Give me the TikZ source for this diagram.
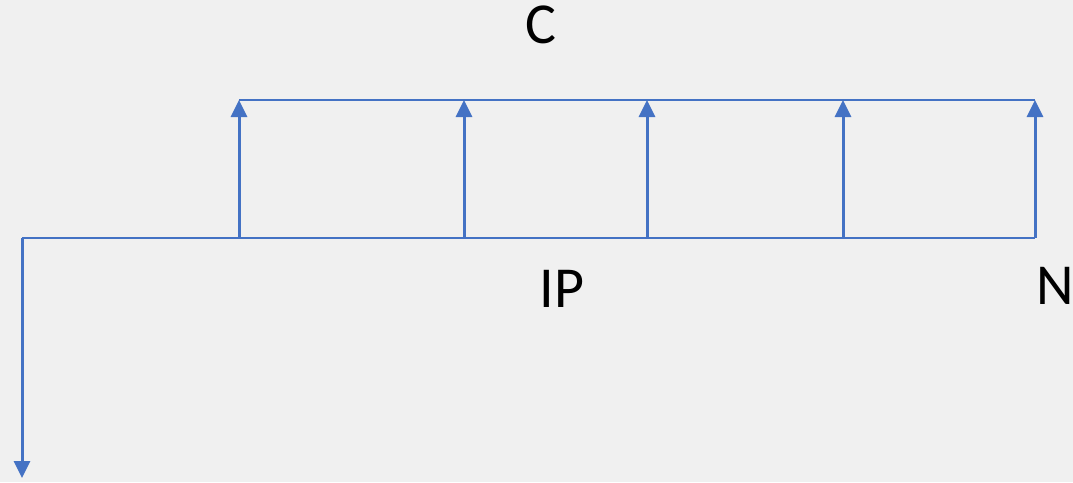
\documentclass[tikz,border=0pt]{standalone}
\usepackage{fontspec}
\setmainfont{Carlito}
\usetikzlibrary{arrows.meta}
\definecolor{flowblue}{HTML}{4472C4}
\definecolor{bggray}{HTML}{F0F0F0}
\tikzset{
  flow/.style={draw=flowblue, line width=3pt, -{Triangle[width=16pt,length=17pt]}},
  timeline/.style={draw=flowblue, line width=2pt},
  lbl/.style={font=\fontsize{58}{70}\selectfont, inner sep=0pt}
}
\begin{document}
\begin{tikzpicture}[x=1pt,y=-1pt]
    % background and frame
    \fill[bggray] (0,0) rectangle (1073,482);
    \useasboundingbox (0,0) rectangle (1073,482);

    % time line
    \coordinate (t0) at (22,238);
    \coordinate (tN) at (1035,238);
    \coordinate (out) at (22,478);
    \draw[timeline] (t0) -- (tN);
    \draw[flow] (t0) -- (out);

    % coupons
    \foreach \x [count=\i] in {239,464,647,843,1035} {
        \coordinate (b\i) at (\x,238);
        \coordinate (c\i) at (\x,100);
        \draw[flow] (b\i) -- (c\i);
    }
    \draw[timeline] (c1) -- (c5);

    % labels
    \node[lbl] (C) at (541,25) {C};
    \node[lbl] (IP) at (562,289) {IP};
    \node[lbl] (N) at (1055,286) {N};
\end{tikzpicture}
\end{document}
